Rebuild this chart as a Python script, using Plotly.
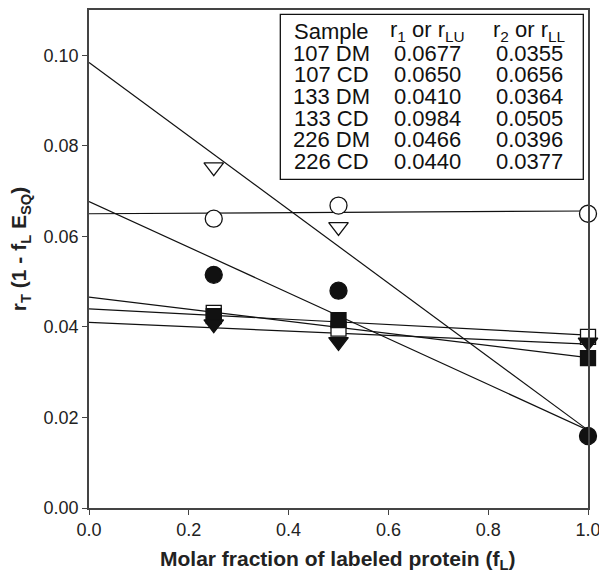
import plotly.graph_objects as go

# ---- data ----
samples = ["107 DM", "107 CD", "133 DM", "133 CD", "226 DM", "226 CD"]
r1_values = ["0.0677", "0.0650", "0.0410", "0.0984", "0.0466", "0.0440"]
r2_values = ["0.0355", "0.0656", "0.0364", "0.0505", "0.0396", "0.0377"]

x_points = [0.25, 0.5, 1.0]
y_107DM = [0.0515, 0.0480, 0.0159]
y_107CD = [0.0639, 0.0668, 0.0650]
y_133DM = [0.0406, 0.0367, 0.0366]
y_133CD = [0.0753, 0.0621, None]
y_226DM = [0.0424, 0.0415, 0.0331]
y_226CD = [0.0431, 0.0396, 0.0378]

x_line = [0.0, 1.0]
line_107DM = [0.0677, 0.0172]
line_107CD = [0.0650, 0.0656]
line_133DM = [0.0410, 0.0362]
line_133CD = [0.0984, 0.0172]
line_226DM = [0.0466, 0.0332]
line_226CD = [0.0440, 0.0382]

x_title = "Molar fraction of labeled protein (f<sub>L</sub>)"
y_title = "r<sub>T</sub> (1 - f<sub>L</sub> E<sub>SQ</sub>)"

FONT = "Arial, 'Liberation Sans', Helvetica, sans-serif"

fig = go.Figure()

for ly in [line_133CD, line_107DM, line_107CD, line_226DM, line_226CD, line_133DM]:
    fig.add_trace(go.Scatter(x=x_line, y=ly, mode="lines",
                             line=dict(color="#111111", width=1.2),
                             showlegend=False, hoverinfo="skip"))

series = [
    (y_226CD, "square", "white", 15),
    (y_226DM, "square", "#111111", 15),
    (y_133DM, "triangle-down", "#111111", 17),
    (y_133CD, "triangle-down", "white", 17),
    (y_107CD, "circle", "white", 17),
    (y_107DM, "circle", "#111111", 17),
]
for ys, sym, col, sz in series:
    fig.add_trace(go.Scatter(
        x=x_points, y=ys, mode="markers", cliponaxis=False,
        marker=dict(symbol=sym, size=sz, color=col,
                    line=dict(color="#111111", width=1.3)),
        showlegend=False))

# ---- table inset ----
fig.add_shape(type="rect", xref="paper", yref="paper",
              x0=0.3834, x1=0.9906, y0=0.6598, y1=0.9914,
              line=dict(color="#111111", width=1.3), fillcolor="white", layer="above")

col_x = [0.4869, 0.6777, 0.8822]
row_y0 = 0.957
row_dy = 0.0436
headers = ["Sample", "r<sub>1</sub> or r<sub>LU</sub>", "r<sub>2</sub> or r<sub>LL</sub>"]
for cx, h in zip(col_x, headers):
    fig.add_annotation(x=cx, y=row_y0, xref="paper", yref="paper", text=h,
                       showarrow=False, xanchor="center", yanchor="middle",
                       font=dict(family=FONT, size=22, color="#111111"))
for i, (s, a, b) in enumerate(zip(samples, r1_values, r2_values)):
    yy = row_y0 - (i + 1) * row_dy
    for cx, t in zip(col_x, [s, a, b]):
        fig.add_annotation(x=cx, y=yy, xref="paper", yref="paper", text=t,
                           showarrow=False, xanchor="center", yanchor="middle",
                           font=dict(family=FONT, size=22, color="#111111"))

# ---- axis titles ----
fig.add_annotation(x=0.498, y=-0.104, xref="paper", yref="paper", text=x_title,
                   showarrow=False, xanchor="center", yanchor="middle",
                   font=dict(family=FONT, size=21, color="#222222", weight="bold"))
fig.add_annotation(x=-0.138, y=0.52, xref="paper", yref="paper", text=y_title,
                   showarrow=False, xanchor="center", yanchor="middle", textangle=-90,
                   font=dict(family=FONT, size=21, color="#222222", weight="bold"))

axis_common = dict(showline=True, linecolor="#444444", linewidth=1.5, mirror=True,
                   ticks="outside", ticklen=5, tickwidth=1.2, tickcolor="#444444",
                   showgrid=False, zeroline=False, automargin=False,
                   ticklabeloverflow="allow",
                   tickfont=dict(family=FONT, size=18, color="#222222"))

fig.update_layout(
    width=599, height=572,
    margin=dict(l=89, r=11, t=10, b=64),
    paper_bgcolor="white", plot_bgcolor="white",
    xaxis=dict(range=[0, 1.0], tickvals=[0, 0.2, 0.4, 0.6, 0.8, 1.0], tickformat=".1f",
               **axis_common),
    yaxis=dict(range=[0, 0.11], tickvals=[0, 0.02, 0.04, 0.06, 0.08, 0.10], tickformat=".2f",
               **axis_common),
)

fig.write_html("out.html", config={"displayModeBar": False},
               post_script="document.body.style.margin='0px';document.body.style.overflow='hidden';")
